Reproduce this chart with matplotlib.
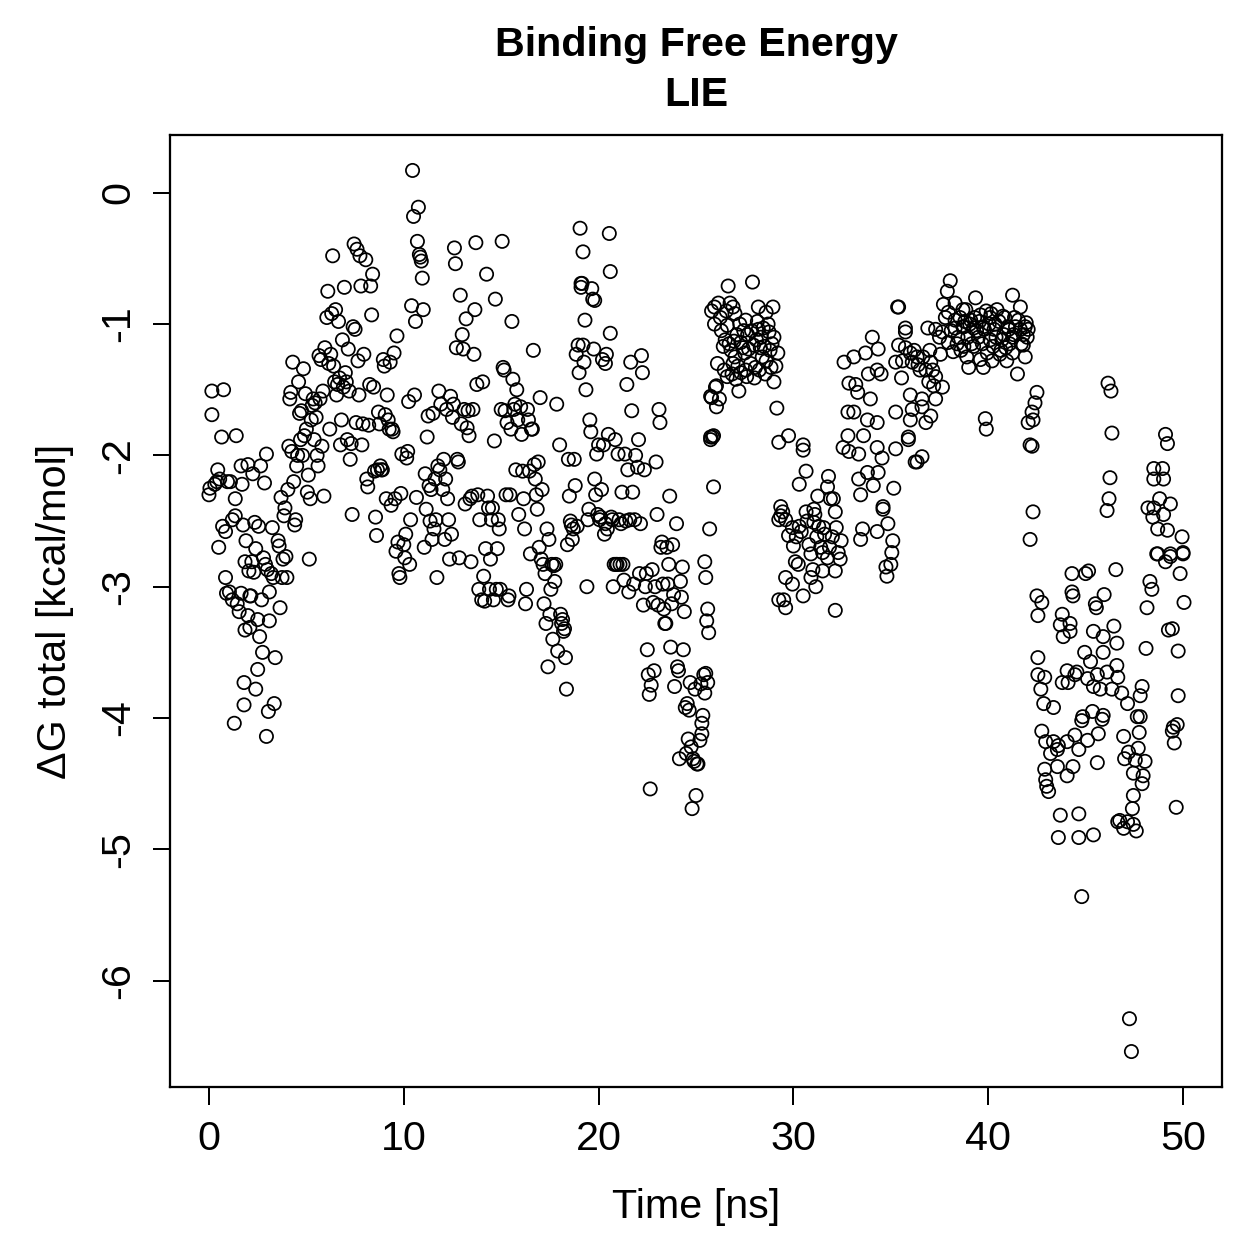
import numpy as np
import matplotlib
matplotlib.use("Agg")
import matplotlib.pyplot as plt

# ---- data (time in ns, dG in kcal/mol) ----
t_a = [0.0, 0.05, 0.15, 0.15, 0.3, 0.4, 0.45, 0.55, 0.65, 0.75, 0.5, 0.7, 0.85, 0.85, 0.9, 1.05, 1.2, 0.95, 1.1, 1.2,
       1.35, 1.35, 1.4, 1.3, 1.45, 1.55, 1.65, 1.65, 1.7, 1.75, 1.8, 1.8, 1.85, 1.9, 1.85, 2.0, 2.0,
       2.05, 2.1, 2.1, 2.15, 2.2, 2.25, 2.3, 2.35, 2.4, 2.4, 2.5, 2.5, 2.55, 2.6, 2.65, 2.7, 2.75, 2.8, 2.85, 2.9,
       2.95, 2.95, 3.0, 3.05, 3.1, 3.1, 3.2, 3.25, 3.3, 3.35, 3.4, 3.55, 3.6, 3.65, 3.7, 3.75, 3.8, 3.85, 3.9, 3.95, 4.0,
       4.05, 4.1, 4.15, 4.2, 4.25, 4.3, 4.35, 4.4, 4.45, 4.5, 4.55, 4.6, 4.65, 4.7, 4.75, 4.8, 4.85, 4.9, 4.95, 5.0,
       5.05, 5.1, 5.15, 5.2, 5.25, 5.3, 5.35, 5.4, 5.45, 5.5, 5.55, 5.6, 5.65, 5.7, 5.75, 5.8, 5.85, 5.9, 5.95]
dg_a = [-2.30, -2.25, -1.69, -1.51, -2.22, -2.2, -2.11, -2.18, -1.86, -1.5, -2.7, -2.54, -2.58, -2.93, -3.05, -3.04, -3.1, -2.2, -2.2, -2.49,
        -2.33, -2.46, -1.85, -4.04, -3.13, -3.19, -3.05, -2.08, -2.22, -2.53, -3.73, -3.9, -3.33, -2.65, -2.81, -2.07, -3.22,
        -2.88, -3.07, -3.31, -3.07, -2.81, -2.14, -2.89, -2.51, -2.71, -3.78, -3.25, -3.63, -2.54, -3.38, -2.08, -3.1, -3.5, -2.78, -2.21, -2.83,
        -1.99, -4.14, -2.87, -3.95, -3.04, -3.26, -2.9, -2.55, -2.93, -3.89, -3.54, -2.65, -2.69, -3.16, -2.32, -2.93, -2.79, -2.46, -2.4, -2.77, -2.93,
        -2.26, -1.93, -1.57, -1.52, -1.97, -1.29, -2.2, -2.53, -2.49, -2.08, -2.0, -1.44, -1.68, -1.88, -1.66, -2.0, -1.34, -1.85, -1.53, -1.8,
        -2.28, -2.15, -2.79, -2.33, -1.73, -1.62, -1.57, -1.88, -1.6, -1.71, -2.0, -2.08, -1.24, -1.57, -1.27, -1.93, -1.51, -2.31, -1.18]

t_b = [6.05, 6.1, 6.15, 6.2, 6.25, 6.3, 6.35, 6.4, 6.45, 6.5, 6.55, 6.6, 6.65, 6.7, 6.75, 6.8, 6.85, 6.9, 6.95, 7.0,
       7.05, 7.1, 7.15, 7.2, 7.25, 7.3, 7.35, 7.4, 7.45, 7.5, 7.55, 7.6, 7.65, 7.7, 7.75, 7.8, 7.85, 7.9, 7.95,
       8.05, 8.1, 8.15, 8.2, 8.25, 8.3, 8.35, 8.4, 8.45, 8.5, 8.55, 8.6, 8.65, 8.7, 8.75, 8.8, 8.85, 8.9, 8.95, 9.0,
       9.05, 9.1, 9.15, 9.2, 9.25, 9.3, 9.35, 9.4, 9.45, 9.5, 9.55, 9.6, 9.65, 9.7, 9.75, 9.8, 9.85, 9.9, 10.0,
       10.05, 10.1, 10.15, 10.2, 10.25, 10.3, 10.35, 10.4, 10.45, 10.5, 10.55, 10.6, 10.65, 10.7, 10.75, 10.8, 10.85, 10.9, 10.95, 11.0,
       11.05, 11.1, 11.15, 11.2, 11.25, 11.3, 11.35, 11.4, 11.45, 11.5, 11.55, 11.6, 11.65, 11.7, 11.75, 11.8, 11.85, 11.9, 12.0]
dg_b = [-0.95, -0.75, -1.3, -1.8, -1.23, -0.92, -0.48, -1.32, -1.44, -0.89, -1.54, -1.46, -0.98, -1.41, -1.92, -1.73, -1.12, -1.48, -0.72, -1.37,
        -1.44, -1.88, -1.19, -1.51, -2.03, -1.91, -2.45, -1.02, -0.39, -1.04, -1.75, -0.43, -1.28, -1.54, -0.48, -0.71, -1.92, -1.76, -1.23,
        -0.51, -2.18, -2.24, -1.77, -1.46, -0.71, -0.93, -0.62, -1.48, -2.12, -2.47, -2.61, -2.11, -1.67, -1.76, -2.08, -2.11, -2.11, -1.27, -1.32,
        -1.69, -2.33, -1.54, -1.73, -1.8, -1.29, -2.38, -1.8, -1.82, -1.22, -2.33, -2.73, -1.09, -2.66, -2.9, -2.93, -2.29, -1.99, -2.68,
        -2.78, -2.6, -2.02, -1.97, -1.59, -2.83, -2.49, -0.86, 0.17, -0.18, -1.54, -0.98, -2.32, -0.37, -0.11, -0.47, -0.49, -0.52, -0.65, -0.89,
        -2.7, -2.14, -2.41, -1.86, -1.7, -2.23, -2.5, -2.26, -2.64, -1.68, -2.56, -2.18, -2.49, -2.93, -2.08, -1.51, -2.11, -1.61, -2.26]

t_c = [12.05, 12.1, 12.15, 12.2, 12.25, 12.3, 12.35, 12.4, 12.45, 12.5, 12.55, 12.6, 12.65, 12.7, 12.75, 12.8, 12.85, 12.9, 12.95, 13.0,
       13.05, 13.1, 13.15, 13.2, 13.25, 13.3, 13.35, 13.4, 13.45, 13.5, 13.55, 13.6, 13.65, 13.7, 13.75, 13.8, 13.85, 13.9, 14.0,
       14.05, 14.1, 14.15, 14.2, 14.25, 14.3, 14.35, 14.4, 14.45, 14.5, 14.55, 14.6, 14.65, 14.7, 14.75, 14.8, 14.85, 14.9, 14.95, 15.0,
       15.05, 15.1, 15.15, 15.2, 15.25, 15.3, 15.35, 15.4, 15.45, 15.5, 15.55, 15.6, 15.65, 15.7, 15.75, 15.8, 15.85, 15.9, 16.0,
       16.05, 16.1, 16.15, 16.2, 16.25, 16.3, 16.35, 16.4, 16.45, 16.5, 16.55, 16.6, 16.65, 16.7, 16.75, 16.8, 16.85, 16.9, 16.95, 17.0,
       17.05, 17.1, 17.15, 17.2, 17.25, 17.3, 17.35, 17.4, 17.45, 17.5, 17.55, 17.6, 17.65, 17.7, 17.75, 17.8, 17.85, 17.9, 18.0]
dg_c = [-2.03, -2.64, -2.18, -1.65, -2.33, -2.49, -2.79, -1.55, -2.6, -1.71, -1.61, -0.42, -0.54, -1.18, -2.03, -2.05, -2.78, -0.78, -1.76, -1.08,
        -1.19, -1.65, -2.37, -0.96, -1.79, -1.66, -1.85, -2.33, -2.81, -2.31, -1.65, -1.23, -0.89, -0.38, -1.46, -2.3, -3.02, -2.49, -3.1,
        -1.44, -2.92, -3.11, -2.71, -0.62, -2.31, -2.4, -3.02, -2.79, -2.49, -2.4, -3.1, -1.89, -0.81, -3.02, -2.71, -2.49, -2.56, -3.02, -1.65,
        -0.37, -1.33, -1.35, -1.66, -2.3, -1.75, -3.1, -3.07, -2.3, -1.8, -0.98, -1.42, -1.65, -1.61, -2.11, -1.5, -1.73, -2.45, -1.63,
        -1.84, -2.12, -2.33, -2.56, -3.13, -3.02, -1.65, -1.73, -2.12, -2.75, -1.8, -1.8, -1.2, -2.07, -2.18, -2.3, -2.41, -2.05, -2.7, -1.56,
        -2.79, -2.26, -2.83, -3.13, -2.9, -3.28, -2.56, -3.61, -2.64, -3.21, -3.02, -2.83, -3.4, -2.84, -2.96, -2.83, -1.61, -3.49, -1.92]

t_d = [18.05, 18.1, 18.15, 18.2, 18.25, 18.3, 18.35, 18.4, 18.45, 18.5, 18.55, 18.6, 18.65, 18.7, 18.75, 18.8, 18.85, 18.9, 18.95, 19.0,
       19.05, 19.1, 19.15, 19.2, 19.25, 19.3, 19.35, 19.4, 19.45, 19.5, 19.55, 19.6, 19.65, 19.7, 19.75, 19.8, 19.85, 19.9, 19.95, 20.0,
       20.05, 20.1, 20.15, 20.2, 20.25, 20.3, 20.35, 20.4, 20.45, 20.5, 20.55, 20.6, 20.65, 20.7, 20.75, 20.8, 20.85, 20.9, 20.95, 21.0,
       21.05, 21.1, 21.15, 21.2, 21.25, 21.3, 21.35, 21.4, 21.45, 21.5, 21.55, 21.6, 21.65, 21.7, 21.75, 21.8, 21.85, 21.9, 22.0,
       19.1, 19.8, 20.6, 20.35, 19.2]
dg_d = [-3.21, -3.28, -3.25, -3.34, -3.32, -3.54, -3.78, -2.68, -2.03, -2.31, -2.5, -2.53, -2.64, -2.56, -2.03, -2.23, -1.23, -2.54, -1.16, -1.37,
        -0.27, -0.69, -0.69, -0.45, -1.29, -0.97, -1.5, -3.0, -2.49, -2.41, -1.73, -1.82, -0.73, -0.81, -1.19, -2.18, -2.3, -1.99, -2.45, -1.92,
        -2.49, -2.47, -2.26, -1.27, -1.92, -2.6, -2.52, -1.23, -2.56, -1.84, -0.31, -0.6, -2.47, -2.49, -3.0, -2.83, -1.88, -2.83, -2.83, -1.99,
        -2.49, -2.83, -2.52, -2.28, -2.83, -2.95, -1.99, -2.5, -1.46, -2.11, -3.04, -2.49, -1.29, -1.66, -2.28, -2.98, -2.49, -2.0, -2.09,
        -0.72, -0.82, -1.07, -1.3, -1.16]

t_e = [22.05, 22.1, 22.15, 22.2, 22.25, 22.3, 22.35, 22.4, 22.45, 22.5, 22.55, 22.6, 22.65, 22.7, 22.75, 22.8, 22.85, 22.9, 22.95, 23.0,
       23.05, 23.1, 23.15, 23.2, 23.25, 23.3, 23.35, 23.4, 23.45, 23.5, 23.55, 23.6, 23.65, 23.7, 23.75, 23.8, 23.85, 23.9, 24.0,
       24.05, 24.1, 24.15, 24.2, 24.25, 24.3, 24.35, 24.4, 24.45, 24.5, 24.55, 24.6, 24.65, 24.7, 24.75, 24.8, 24.85, 24.9, 24.95, 25.0,
       25.05, 25.1, 25.25, 25.3, 25.4, 25.45, 25.5, 25.55, 25.6, 25.65, 25.7, 25.75, 25.8, 25.85, 25.9, 25.95, 26.0,
       25.5, 25.6, 25.45, 25.35, 25.3, 25.2]
dg_e = [-1.88, -2.9, -2.52, -1.24, -1.37, -3.14, -2.11, -3.0, -2.9, -3.48, -3.67, -3.82, -4.54, -3.75, -2.87, -3.12, -3.64, -3.0, -2.05, -2.45,
        -3.14, -1.65, -1.75, -2.7, -2.66, -2.98, -3.17, -3.28, -3.28, -2.7, -2.98, -2.83, -2.31, -3.46, -3.13, -2.68, -3.06, -3.76, -2.52,
        -3.61, -3.64, -4.31, -2.96, -3.08, -2.85, -3.48, -3.19, -3.92, -4.27, -3.89, -4.16, -3.94, -3.73, -4.22, -4.69, -4.31, -4.33, -3.78, -4.59,
        -4.35, -4.35, -3.74, -4.04, -3.67, -2.81, -2.93, -3.26, -3.17, -3.35, -2.56, -1.88, -1.56, -1.86, -2.24, -0.87, -1.48,
        -3.66, -3.73, -3.81, -3.98, -4.12, -4.17]

t_f = [26.65, 27.9, 25.8, 26.15, 26.75, 26.55, 26.9, 26.25, 26.6, 27.55, 28.2, 28.95, 28.6, 28.2, 28.45, 28.75, 29.0, 27.65,
       26.4, 26.95, 27.4, 27.7, 27.95, 28.5, 29.2, 26.1, 27.15, 27.3, 27.55, 28.05, 28.4, 28.85, 29.1, 28.0, 29.0, 26.05, 27.2,
       25.75, 26.05, 29.15, 25.75, 25.9, 29.25, 29.75, 30.5, 30.5,
       26.3, 26.5, 26.8, 27.0, 27.1, 27.3, 27.5, 27.8, 28.1, 28.3, 28.6, 28.8, 26.85, 27.05, 27.6, 26.2, 25.95,
       26.7, 26.9, 27.25, 27.45, 27.85, 28.15, 28.35, 28.7, 28.9, 27.0, 26.45, 26.6, 28.25, 28.55]
dg_f = [-0.71, -0.68, -0.9, -0.84, -0.84, -0.9, -0.87, -0.95, -1.01, -0.97, -0.87, -0.87, -0.91, -1.04, -1.03, -1.06, -1.1, -1.08,
        -1.17, -1.13, -1.18, -1.19, -1.16, -1.17, -1.22, -1.3, -1.32, -1.37, -1.35, -1.33, -1.25, -1.33, -1.32, -1.41, -1.44, -1.47, -1.51,
        -1.55, -1.63, -1.64, -1.86, -1.85, -1.9, -1.85, -1.92, -1.96,
        -1.05, -1.12, -1.2, -1.25, -1.08, -1.14, -1.22, -1.3, -1.12, -1.18, -1.28, -1.2, -1.38, -1.42, -1.4, -1.57, -1.0,
        -1.15, -1.3, -1.0, -1.05, -1.05, -0.98, -1.1, -1.0, -1.15, -0.92, -1.35, -1.4, -1.35, -1.38]

t_g = [30.65, 30.3, 31.25, 31.8, 31.75, 31.9, 32.05, 32.15, 29.35, 29.45, 30.65, 31.05,
       29.35, 29.25, 29.6, 29.95, 30.3, 29.75, 30.0, 30.8, 31.05, 31.3, 31.55, 31.1, 32.0, 31.5, 31.75, 32.3, 32.4,
       30.1, 30.25, 31.0, 30.9, 31.15, 31.5, 32.15, 29.6, 29.95, 29.25, 29.5, 29.6, 30.5, 32.15,
       33.55, 33.45, 34.3, 34.85, 35.1, 35.05, 35.0, 34.75, 34.8, 34.6,
       30.4, 30.7, 31.2, 31.4, 31.6, 31.85, 32.2, 32.45, 30.9, 30.15]
dg_g = [-2.12, -2.22, -2.31, -2.16, -2.24, -2.33, -2.33, -2.43, -2.39, -2.43, -2.43, -2.41,
        -2.46, -2.49, -2.49, -2.55, -2.54, -2.61, -2.69, -2.68, -2.51, -2.54, -2.55, -2.45, -2.62, -2.74, -2.78, -2.74, -2.79,
        -2.81, -2.83, -2.87, -2.93, -3.0, -2.88, -2.88, -2.93, -2.98, -3.1, -3.1, -3.16, -3.07, -3.18,
        -2.56, -2.64, -2.58, -2.52, -2.65, -2.74, -2.83, -2.85, -2.92, -2.41,
        -2.58, -2.5, -2.62, -2.7, -2.6, -2.7, -2.55, -2.65, -2.75, -2.62]

t_h = [35.35, 35.4, 38.05, 37.9, 35.75, 35.75, 36.9, 37.7, 38.3, 38.7, 37.95, 37.3, 37.65, 38.3, 38.7, 38.45, 37.95, 38.2,
       35.4, 35.75, 36.0, 36.35, 36.65, 37.05, 37.55, 35.25, 35.6, 36.1, 36.4, 37.15, 37.3, 36.95, 37.65, 37.2, 35.55,
       36.0, 36.6, 37.3, 36.6, 36.1, 35.25, 36.0, 37.05, 36.8, 35.9, 35.25, 36.35, 36.6,
       32.6, 33.1, 33.7, 34.35, 34.05, 33.85, 34.3, 34.5, 32.85, 33.2, 33.3, 33.95, 32.8, 33.1, 33.8, 34.3, 32.8, 33.6,
       32.55, 32.85, 33.35, 34.3, 34.55, 35.9, 36.25, 33.8, 34.35, 33.35, 34.1, 33.45, 35.15, 34.6,
       37.8, 37.5, 37.0, 36.8, 36.2, 36.5]
dg_h = [-0.87, -0.87, -0.67, -0.75, -1.03, -1.06, -1.03, -0.85, -0.84, -0.89, -0.91, -1.04, -1.06, -1.03, -1.02, -1.1, -1.14, -1.21,
        -1.16, -1.18, -1.22, -1.25, -1.25, -1.29, -1.23, -1.29, -1.28, -1.29, -1.31, -1.35, -1.4, -1.44, -1.48, -1.47, -1.41,
        -1.54, -1.57, -1.57, -1.63, -1.65, -1.67, -1.73, -1.7, -1.75, -1.86, -1.95, -2.05, -2.01,
        -1.29, -1.25, -1.22, -1.19, -1.1, -1.38, -1.35, -1.38, -1.45, -1.46, -1.52, -1.57, -1.67, -1.67, -1.73, -1.75, -1.85, -1.85,
        -1.94, -1.97, -1.99, -1.94, -2.02, -1.88, -2.05, -2.13, -2.13, -2.18, -2.23, -2.3, -2.25, -2.39,
        -0.95, -1.1, -1.2, -1.35, -1.2, -1.35]

t_i = [39.35, 41.25, 41.65, 40.45, 38.85, 39.6, 39.1, 40.1, 40.75, 41.35, 41.95, 38.75, 39.25, 39.75, 40.35, 41.0, 41.65,
       38.95, 39.5, 40.1, 40.7, 41.25, 41.8, 38.75, 39.25, 40.25, 40.9, 39.95, 40.6, 41.25, 41.9, 39.6, 40.2, 40.95, 39.0, 39.75,
       41.5, 42.5, 42.4, 42.25, 42.3, 42.05, 39.85, 39.9, 42.15, 42.25, 42.3, 42.15,
       38.3, 38.55, 38.8, 39.05, 39.3, 39.55, 39.8, 40.05, 40.3, 40.55, 40.8, 41.05, 41.3, 41.55, 41.8, 42.05,
       38.1, 38.4, 38.6, 38.9, 39.15, 39.4, 39.7, 39.9, 40.15, 40.4, 40.65, 40.85, 41.1, 41.4, 41.7, 41.9, 42.0]
dg_i = [-0.8, -0.78, -0.87, -0.89, -0.89, -0.93, -0.97, -0.95, -0.94, -0.95, -0.99, -1.02, -1.03, -1.02, -1.0, -1.02, -1.04,
        -1.1, -1.1, -1.12, -1.12, -1.1, -1.16, -1.17, -1.17, -1.17, -1.18, -1.22, -1.23, -1.22, -1.25, -1.27, -1.28, -1.28, -1.33, -1.33,
        -1.38, -1.52, -1.6, -1.67, -1.73, -1.75, -1.72, -1.8, -1.92, -1.93, -2.43, -2.64,
        -0.97, -0.95, -0.98, -1.0, -0.95, -0.98, -1.04, -1.0, -1.04, -0.98, -1.08, -1.04, -1.08, -0.97, -1.08, -1.04,
        -1.05, -1.15, -1.2, -1.25, -1.15, -1.05, -1.15, -0.9, -0.92, -1.1, -1.2, -0.95, -1.15, -1.02, -1.15, -1.02, -1.1]

t_j = [46.15, 46.3, 46.35, 46.25, 46.2, 46.1, 49.1, 49.2, 48.5, 48.95, 48.5, 49.0, 48.8, 48.2, 48.5, 49.35, 48.45, 49.0,
       48.7, 49.2, 49.95, 48.7, 49.35, 50.0, 48.65, 49.35, 50.0, 49.1,
       44.3, 45.0, 45.15, 46.55, 48.3, 48.4, 49.85, 42.5, 42.75, 42.55, 44.3, 44.35, 45.95, 45.5, 45.55, 48.15, 50.05,
       43.8, 43.7, 44.2, 44.2, 43.85, 45.4, 45.9, 46.45, 46.6, 49.25, 49.45, 48.1, 49.75, 42.55, 44.95, 45.9, 45.25,
       42.55, 42.9, 44.05, 44.55, 44.45, 43.8, 44.1, 45.1, 45.6, 46.1, 46.6, 46.65, 45.4, 45.75, 46.35, 46.85, 47.15,
       47.9, 47.8, 42.7, 42.85, 43.35, 49.75, 45.35, 44.85, 44.8, 45.9, 45.85, 47.65, 47.8, 49.7, 49.5, 49.45]
dg_j = [-1.45, -1.51, -1.83, -2.17, -2.33, -2.42, -1.84, -1.91, -2.1, -2.1, -2.18, -2.18, -2.33, -2.4, -2.4, -2.37, -2.47, -2.45,
        -2.56, -2.57, -2.62, -2.75, -2.75, -2.74, -2.75, -2.77, -2.75, -2.81,
        -2.9, -2.9, -2.88, -2.87, -2.96, -3.02, -2.9, -3.07, -3.12, -3.22, -3.04, -3.07, -3.06, -3.13, -3.16, -3.16, -3.12,
        -3.21, -3.29, -3.28, -3.34, -3.38, -3.34, -3.38, -3.3, -3.43, -3.33, -3.32, -3.47, -3.49, -3.54, -3.5, -3.5, -3.57,
        -3.67, -3.69, -3.64, -3.65, -3.67, -3.73, -3.73, -3.7, -3.67, -3.65, -3.6, -3.69, -3.76, -3.78, -3.78, -3.81, -3.89,
        -3.76, -3.83, -3.78, -3.89, -3.92, -3.83, -3.95, -3.99, -4.02, -3.98, -4.01, -3.99, -3.99, -4.05, -4.07, -4.1]

t_k = [42.75, 44.45, 45.1, 45.65, 46.95, 47.75, 42.95, 43.35, 43.6, 44.05, 44.65, 43.55, 47.7, 47.2, 47.0, 47.55, 48.05, 49.55,
       43.2, 45.6, 43.55, 42.9, 44.35, 44.05, 47.45, 47.95, 42.95, 43.0, 47.9, 43.1, 47.45, 47.4, 49.65, 43.7, 44.65, 46.75,
       47.15, 47.45, 43.6, 44.65, 45.4, 46.95, 47.6, 46.65, 44.8, 47.25, 47.35]
dg_k = [-4.1, -4.13, -4.17, -4.12, -4.14, -4.11, -4.18, -4.18, -4.21, -4.18, -4.24, -4.24, -4.23, -4.26, -4.31, -4.32, -4.33, -4.19,
        -4.27, -4.34, -4.37, -4.39, -4.37, -4.44, -4.42, -4.44, -4.47, -4.52, -4.5, -4.56, -4.59, -4.69, -4.68, -4.74, -4.73, -4.78,
        -4.79, -4.81, -4.91, -4.91, -4.89, -4.84, -4.86, -4.79, -5.36, -6.29, -6.54]

time_ns = np.concatenate([t_a, t_b, t_c, t_d, t_e, t_f, t_g, t_h, t_i, t_j, t_k])
dg_total = np.concatenate([dg_a, dg_b, dg_c, dg_d, dg_e, dg_f, dg_g, dg_h, dg_i, dg_j, dg_k])

x_ticks = [0, 10, 20, 30, 40, 50]
y_ticks = [0, -1, -2, -3, -4, -5, -6]

# ---- plotting ----
plt.rcParams['font.family'] = ['Liberation Sans', 'DejaVu Sans']
W = 1259
dpi = 180
fig = plt.figure(figsize=(W / dpi, W / dpi), dpi=dpi)
ax = fig.add_axes([170 / W, 1 - 1087 / W, (1222 - 170) / W, (1087 - 135) / W])

ax.scatter(time_ns, dg_total, s=28, facecolors='none', edgecolors='black', linewidths=0.7)

FS = 16.5
ax.set_xlim(-2, 52)
ax.set_ylim(-6.81, 0.44)
ax.set_xticks(x_ticks)
ax.set_yticks(y_ticks)
ax.set_yticklabels([str(v) for v in y_ticks], rotation=90, va='center')
ax.tick_params(axis='both', length=7, width=0.8, labelsize=FS, pad=6, color='black')
for s in ax.spines.values():
    s.set_linewidth(0.9)

ax.set_xlabel('Time [ns]', fontsize=FS, labelpad=12)
ax.set_ylabel('ΔG total [kcal/mol]', fontsize=FS, labelpad=10)

fig.text((170 + 1222) / 2 / W, 1 - 45 / W, 'Binding Free Energy', ha='center', va='center',
         fontsize=FS, fontweight='bold')
fig.text((170 + 1222) / 2 / W, 1 - 95 / W, 'LIE', ha='center', va='center',
         fontsize=FS, fontweight='bold')

fig.savefig('out.png', dpi=dpi)
